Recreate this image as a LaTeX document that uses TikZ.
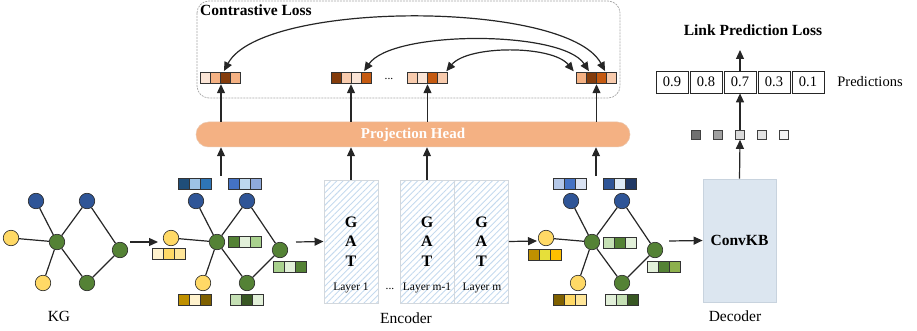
\documentclass[tikz,border=0pt]{standalone}
\usepackage{fontspec}
\setmainfont{Liberation Serif}
\usetikzlibrary{arrows.meta,patterns.meta,calc}
\definecolor{bA}{HTML}{1F4E79}\definecolor{bB}{HTML}{9DC3E6}\definecolor{bC}{HTML}{2E75B6}
\definecolor{bD}{HTML}{4472C4}\definecolor{bE}{HTML}{BDD7EE}\definecolor{bF}{HTML}{8FAADC}
\definecolor{bG}{HTML}{B4C7E7}\definecolor{bH}{HTML}{DAE3F3}\definecolor{bI}{HTML}{2F5597}
\definecolor{bJ}{HTML}{DEEBF7}\definecolor{bK}{HTML}{203864}
\definecolor{yA}{HTML}{FFF2CC}\definecolor{yB}{HTML}{FFD966}\definecolor{yC}{HTML}{FFE699}
\definecolor{yD}{HTML}{BF9000}\definecolor{yE}{HTML}{7F6000}\definecolor{yF}{HTML}{E6DF3A}
\definecolor{yG}{HTML}{FFC000}
\definecolor{gA}{HTML}{548235}\definecolor{gB}{HTML}{E2F0D9}\definecolor{gC}{HTML}{A9D18E}
\definecolor{gD}{HTML}{C5E0B4}\definecolor{gE}{HTML}{385723}\definecolor{gF}{HTML}{8DB04C}
\definecolor{oA}{HTML}{FBE5D6}\definecolor{oB}{HTML}{F4B183}\definecolor{oC}{HTML}{843C0C}
\definecolor{oD}{HTML}{F8CBAD}\definecolor{oE}{HTML}{C55A11}
\definecolor{nBlue}{HTML}{2F5597}\definecolor{nGreen}{HTML}{548235}\definecolor{nYellow}{HTML}{FFD966}
\definecolor{hatch}{HTML}{C5DAEE}\definecolor{gatBorder}{HTML}{D3D8DD}
\definecolor{convFill}{HTML}{DCE6F0}\definecolor{convBorder}{HTML}{C8D3DE}
\definecolor{projFill}{HTML}{F4B183}
\definecolor{sA}{HTML}{707070}\definecolor{sB}{HTML}{A0A0A0}\definecolor{sC}{HTML}{D9D9D9}
\definecolor{sD}{HTML}{E3E3E3}\definecolor{sE}{HTML}{F4F4F4}

\newcommand\ebar[5]{%
  \node[inner sep=0pt, minimum height=11pt, minimum width={3*#4*1pt}] (#1) at (#2,#3) {};
  \foreach \c [count=\i] in {#5} {
    \draw[fill=\c, cellline] (#1.north west) ++({(\i-1)*#4},0) rectangle ++(#4,11);
  }%
}
\newcommand\ebarf[5]{%
  \node[inner sep=0pt, minimum height=11pt, minimum width={4*#4*1pt}] (#1) at (#2,#3) {};
  \foreach \c [count=\i] in {#5} {
    \draw[fill=\c, cellline] (#1.north west) ++({(\i-1)*#4},0) rectangle ++(#4,11);
  }%
}
\newcommand\kgraph[1]{%
  \node[bnode] (#1b1) at (36,201) {};
  \node[bnode] (#1b2) at (87,201) {};
  \node[ynode] (#1yl) at (11,238) {};
  \node[gnode] (#1c) at (57,242) {};
  \node[gnode] (#1r) at (120,250) {};
  \node[ynode] (#1yb) at (43,283) {};
  \node[gnode] (#1gb) at (87,283) {};
  \draw[edge] (#1b1) -- (#1c);
  \draw[edge] (#1b2) -- (#1c);
  \draw[edge] (#1yl) -- (#1c);
  \draw[edge] (#1yb) -- (#1c);
  \draw[edge] (#1c) -- (#1gb);
  \draw[edge] (#1b2) -- (#1r);
  \draw[edge] (#1gb) -- (#1r);
}

\begin{document}
\begin{tikzpicture}[x=1pt,y=-1pt,
  cellline/.style={draw=black!80, line width=0.7pt},
  edge/.style={line width=1.2pt, draw=black!85},
  arr/.style={line width=1.2pt, draw=black!85, -{Triangle[length=9pt,width=8pt]}},
  darr/.style={line width=1.2pt, draw=black!85, {Triangle[length=9pt,width=8pt]}-{Triangle[length=9pt,width=8pt]}},
  cnode/.style={circle, minimum size=15.5pt, inner sep=0pt, draw=black!85, line width=0.6pt},
  bnode/.style={cnode, fill=nBlue},
  gnode/.style={cnode, fill=nGreen},
  ynode/.style={cnode, fill=nYellow},
  lbl/.style={font=\fontsize{15.5}{18}\selectfont, inner sep=0pt},
  blbl/.style={font=\fontsize{15.5}{18}\selectfont\bfseries, inner sep=0pt},
  small/.style={font=\fontsize{11.5}{13}\selectfont, inner sep=0pt},
  gatbox/.style={draw=gatBorder, line width=0.9pt, pattern={Lines[angle=45,distance=4.4pt,line width=0.9pt]}, pattern color=hatch, minimum width=54pt, minimum height=123pt, inner sep=0pt},
  gattext/.style={font=\fontsize{16}{19.5}\selectfont\bfseries, align=center, inner sep=0pt},
  predbox/.style={draw=black!85, line width=0.7pt, minimum width=32pt, minimum height=22pt, inner sep=0pt, font=\fontsize{14.5}{16}\selectfont},
  sq/.style={draw=black!75, line width=0.6pt, minimum size=9pt, inner sep=0pt},
]
\useasboundingbox (0,0) rectangle (917,331);

% ---- Contrastive loss box
\draw[gray!70, dash pattern=on 2pt off 1pt, line width=0.7pt, rounded corners=12pt] (197,1) rectangle (620,98);
\node[blbl, anchor=west] (cl) at (200,10) {Contrastive Loss};

\ebarf{cb1}{221}{78.5}{10}{oA,oB,oC,oB}
\ebarf{cb2}{352}{78.5}{10}{oC,oD,oA,oE}
\ebarf{cb3}{427.5}{78.5}{10}{oD,oA,oE,oD}
\ebarf{cb4}{596.5}{78.5}{10}{oB,oC,oE,oD}
\node[small] (dots1) at (389,79) {...};

\draw[darr, shorten <=2pt, shorten >=2pt] ([xshift=2pt]cb1.north) .. controls (262,0) and (567,0) .. ([xshift=9.5pt]cb4.north);
\draw[darr, shorten <=2pt, shorten >=2pt] ([xshift=11pt]cb2.north) .. controls (392,30) and (562,30) .. ([xshift=-6.5pt]cb4.north);
\draw[darr, shorten <=2pt, shorten >=2pt] ([xshift=17.5pt]cb3.north) .. controls (468,45) and (552,45) .. ([xshift=-21.5pt]cb4.north);

% ---- Projection head
\node[rounded corners=12.5pt, fill=projFill, draw=projFill!90!black!60, line width=0.5pt, minimum width=434pt, minimum height=25pt, inner sep=0pt,
  text=white, font=\fontsize{15}{18}\selectfont\bfseries] (proj) at (413,134.5) {Projection Head};

% ---- KG
\kgraph{k}
\node[lbl] (kg) at (59,316) {KG};
\coordinate (a1s) at (130,242);
\coordinate (a1e) at (158,242);
\draw[arr] (a1s) -- (a1e);

% ---- Graph after encoding (left)
\begin{scope}[shift={(160,0)}]
\kgraph{m}
\ebar{mbb1}{35.5}{184}{11}{bA,bB,bC}
\ebar{mbb2}{85.5}{184}{11}{bD,bE,bF}
\ebar{mbyl}{9.5}{254.5}{11}{yA,yB,yC}
\ebar{mbc}{85}{242.5}{11}{gA,gB,gC}
\ebar{mbr}{130}{267.5}{11}{gC,gB,gA}
\ebar{mbyb}{35.5}{300}{11}{yD,yA,yE}
\ebar{mbgb}{87.5}{300}{11}{gD,gE,gB}
\coordinate (u1) at (61,176);
\coordinate (a2s) at (136,242);
\end{scope}

% ---- GAT layers
\node[gatbox] (gat1) at (351,241.5) {};
\node[gatbox] (gat2) at (427,241.5) {};
\node[gatbox] (gat3) at (481.5,241.5) {};
\node[gattext] (t1) at (351,241.5) {G\\A\\T};
\node[gattext] (t2) at (427,241.5) {G\\A\\T};
\node[gattext] (t3) at (481.5,241.5) {G\\A\\T};
\node[small] (l1) at (351,288) {Layer 1};
\node[small] (l2) at (427,288) {Layer m-1};
\node[small] (l3) at (482,288) {Layer m};
\node[small] (dots2) at (390,289) {...};
\node[lbl] (enc) at (406,318) {Encoder};
\draw[arr] (a2s) -- (gat1.west);

% ---- Graph after encoding (right)
\begin{scope}[shift={(535,0)}]
\kgraph{n}
\ebar{nbb1}{35}{184.5}{11}{bG,bD,bH}
\ebar{nbb2}{85}{184.5}{11}{bI,bJ,bK}
\ebar{nbyl}{10}{255}{11}{yD,yF,yG}
\ebar{nbc}{85}{243}{11}{gD,gA,gB}
\ebar{nbr}{129}{267.5}{11}{gB,gA,gF}
\ebar{nbyb}{35}{300.5}{11}{yE,yB,yC}
\ebar{nbgb}{87}{300.5}{11}{gB,gD,gE}
\coordinate (u4) at (61,176);
\coordinate (a3e) at (2,241);
\coordinate (a4s) at (134,241);
\end{scope}
\draw[arr] (gat3.east) -- (a3e);

% ---- Decoder
\node[draw=convBorder, fill=convFill, line width=0.8pt, minimum width=73pt, minimum height=123pt, inner sep=0pt,
  font=\fontsize{15.5}{18}\selectfont\bfseries] (conv) at (739.5,240.5) {ConvKB};
\node[lbl] (dec) at (735,316) {Decoder};
\draw[arr] (a4s) -- (conv.west);

% ---- Predictions
\node[sq, fill=sA] (s1) at (696,135) {};
\node[sq, fill=sB] (s2) at (718,135) {};
\node[sq, fill=sC] (s3) at (740,135) {};
\node[sq, fill=sD] (s4) at (762,135) {};
\node[sq, fill=sE] (s5) at (784,135) {};
\node[predbox] (p1) at (672,82) {0.9};
\node[predbox] (p2) at (706,82) {0.8};
\node[predbox] (p3) at (740,82) {0.7};
\node[predbox] (p4) at (774,82) {0.3};
\node[predbox] (p5) at (808,82) {0.1};
\node[font=\fontsize{14.5}{16}\selectfont, inner sep=0pt] (predl) at (870,82) {Predictions};
\node[blbl] (lpl) at (753,30) {Link Prediction Loss};
\coordinate (lp) at (740,50);
\draw[arr] (conv.north) -- (s3.south);
\draw[arr] (s3.north) -- (p3.south);
\draw[arr] (p3.north) -- (lp);

% ---- Arrows into and out of projection head
\draw[arr] (u1) -- (u1 |- proj.south);
\draw[arr] (gat1.north) -- (gat1.north |- proj.south);
\draw[arr] (gat2.north) -- (gat2.north |- proj.south);
\draw[arr] (u4) -- (u4 |- proj.south);
\draw[arr] (cb1.south |- proj.north) -- (cb1.south);
\draw[arr] ([xshift=-1pt]cb2.south |- proj.north) -- ([xshift=-1pt]cb2.south);
\draw[arr] (cb3.south |- proj.north) -- (cb3.south);
\draw[arr] (cb4.south |- proj.north) -- (cb4.south);
\end{tikzpicture}
\end{document}
